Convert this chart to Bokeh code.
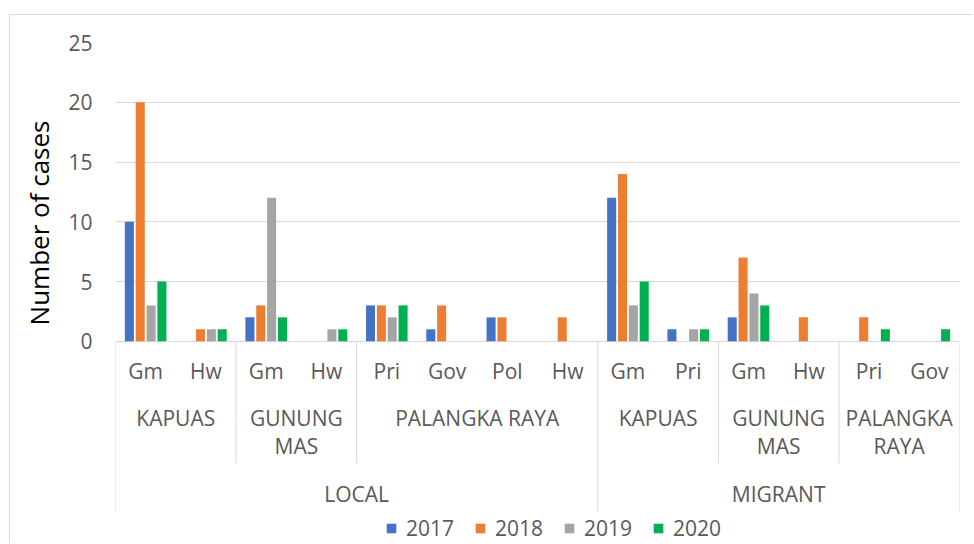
from bokeh.plotting import figure
from bokeh.models import (ColumnDataSource, FactorRange, Range1d, FixedTicker,
                          Legend, LegendItem, Title, InlineStyleSheet)
from bokeh.transform import dodge
from bokeh.core.properties import value
from bokeh.embed import file_html
from bokeh.resources import INLINE

# ---------------- data ----------------
groups = ["LOCAL"] * 8 + ["MIGRANT"] * 6
regions = ["KAPUAS", "KAPUAS", "GUNUNG MAS", "GUNUNG MAS",
           "PALANGKA RAYA", "PALANGKA RAYA", "PALANGKA RAYA", "PALANGKA RAYA",
           "KAPUAS", "KAPUAS", "GUNUNG MAS", "GUNUNG MAS",
           "PALANGKA RAYA", "PALANGKA RAYA"]
occupations = ["Gm", "Hw", "Gm", "Hw", "Pri", "Gov", "Pol", "Hw",
               "Gm", "Pri", "Gm", "Hw", "Pri", "Gov"]
years = ["2017", "2018", "2019", "2020"]
cases_2017 = [10, 0, 2, 0, 3, 1, 2, 0, 12, 1, 2, 0, 0, 0]
cases_2018 = [20, 1, 3, 0, 3, 3, 2, 2, 14, 0, 7, 2, 2, 0]
cases_2019 = [3, 1, 12, 1, 2, 0, 0, 0, 3, 1, 4, 0, 0, 0]
cases_2020 = [5, 1, 2, 1, 3, 0, 0, 0, 5, 1, 3, 0, 1, 1]
region_display = {
    ("LOCAL", "KAPUAS"): "KAPUAS",
    ("LOCAL", "GUNUNG MAS"): "GUNUNG\nMAS",
    ("LOCAL", "PALANGKA RAYA"): "PALANGKA RAYA",
    ("MIGRANT", "KAPUAS"): "KAPUAS",
    ("MIGRANT", "GUNUNG MAS"): "GUNUNG\nMAS",
    ("MIGRANT", "PALANGKA RAYA"): "PALANGKA\nRAYA",
}
y_ticks = [0, 5, 10, 15, 20, 25]
y_title = "Number of cases"
colors = ["#4472C4", "#ED7D31", "#A5A5A5", "#00B050"]

# ---------------- layout constants ----------------
W, H = 964, 529
BORDER_L, BORDER_R, BORDER_T, BORDER_B = 103, 15, 27, 0
PX_PER_UNIT = 11.95
Y_END = 25
y_start = Y_END - (H - BORDER_T - BORDER_B) / PX_PER_UNIT
FONT = "Open Sans"
TXT = "#595959"
LINE = "#d9d9d9"

factors = list(zip(groups, regions, occupations))
series = [cases_2017, cases_2018, cases_2019, cases_2020]
src = ColumnDataSource(dict(x=factors, **{"y" + yr: s for yr, s in zip(years, series)}))

x_range = FactorRange(factors=factors, range_padding=0, factor_padding=0,
                      subgroup_padding=0, group_padding=0)
p = figure(width=W, height=H, x_range=x_range, y_range=Range1d(y_start, Y_END),
           output_backend="svg", toolbar_location=None, x_axis_location=None,
           min_border_left=BORDER_L, min_border_right=BORDER_R,
           min_border_top=BORDER_T, min_border_bottom=BORDER_B,
           margin=(14, 0, 0, 9))
p.stylesheets = [InlineStyleSheet(css=":host { border-left: 1px solid #d9d9d9; border-top: 1px solid #d9d9d9; }")]
p.outline_line_color = None
p.xgrid.visible = False
p.ygrid.bounds = (0, Y_END)
p.ygrid.grid_line_color = LINE
p.ygrid.grid_line_width = 1

ax = p.yaxis[0]
ax.ticker = FixedTicker(ticks=y_ticks)
ax.axis_line_color = None
ax.major_tick_line_color = None
ax.minor_tick_line_color = None
ax.major_tick_out = 0
ax.major_tick_in = 0
ax.major_label_standoff = 23
ax.major_label_text_font = FONT
ax.major_label_text_font_size = "21px"
ax.major_label_text_color = TXT

# y-axis title (left-side title, its top end placed below the frame top)
p.add_layout(Title(text=y_title, align="right", offset=78, standoff=17,
                   text_font=FONT, text_font_size="26px", text_font_style="normal",
                   text_color="black"), "left")

# bars
offsets = [-0.27, -0.09, 0.09, 0.27]
items = []
for yr, off, c in zip(years, offsets, colors):
    r = p.vbar(x=dodge("x", off, range=p.x_range), top="y" + yr, width=0.15,
               source=src, fill_color=c, line_color=None)
    items.append(LegendItem(label=yr, renderers=[r]))

# category labels (level 3)
p.text(x="x", y=-2.47, text="t", source=ColumnDataSource(dict(x=factors, t=occupations)),
       text_font=value(FONT), text_font_size="21px", text_color=TXT,
       text_align="center", text_baseline="middle")

# region labels (level 2)
reg_keys = []
for g, r in zip(groups, regions):
    if (g, r) not in reg_keys:
        reg_keys.append((g, r))
p.text(x="x", y=-5.25, text="t",
       source=ColumnDataSource(dict(x=reg_keys, t=[region_display[k] for k in reg_keys])),
       text_font=value(FONT), text_font_size="21px", text_color=TXT,
       text_align="center", text_baseline="top", text_line_height=1.0)

# group labels (level 1)
grp_keys = []
for g in groups:
    if g not in grp_keys:
        grp_keys.append(g)
p.text(x="x", y=-12.76, text="t", source=ColumnDataSource(dict(x=grp_keys, t=grp_keys)),
       text_font=value(FONT), text_font_size="21px", text_color=TXT,
       text_align="center", text_baseline="middle")

# separators
inner, outer = [], []
for i, f in enumerate(factors):
    if i == 0 or groups[i] != groups[i - 1]:
        outer.append(f)
    elif regions[i] != regions[i - 1]:
        inner.append(f)
p.segment(x0=dodge("x", -0.5, range=p.x_range), x1=dodge("x", -0.5, range=p.x_range),
          y0=0, y1=-10.2, source=ColumnDataSource(dict(x=inner)),
          line_color=LINE, line_width=1)
p.segment(x0=dodge("x", -0.5, range=p.x_range), x1=dodge("x", -0.5, range=p.x_range),
          y0=0, y1=-14.2, source=ColumnDataSource(dict(x=outer)),
          line_color=LINE, line_width=1)
p.segment(x0=dodge("x", 0.5, range=p.x_range), x1=dodge("x", 0.5, range=p.x_range),
          y0=0, y1=-14.2, source=ColumnDataSource(dict(x=[factors[-1]])),
          line_color=LINE, line_width=1)

legend = Legend(items=items, orientation="horizontal", location=(270, 2),
                label_text_font=FONT, label_text_font_size="21px", label_text_color=TXT,
                glyph_width=12, glyph_height=12, label_standoff=9, spacing=20,
                padding=0, margin=0, border_line_color=None, background_fill_alpha=0,
                label_height=21)
p.add_layout(legend, "center")

open("out.html", "w").write(file_html(p, INLINE))
